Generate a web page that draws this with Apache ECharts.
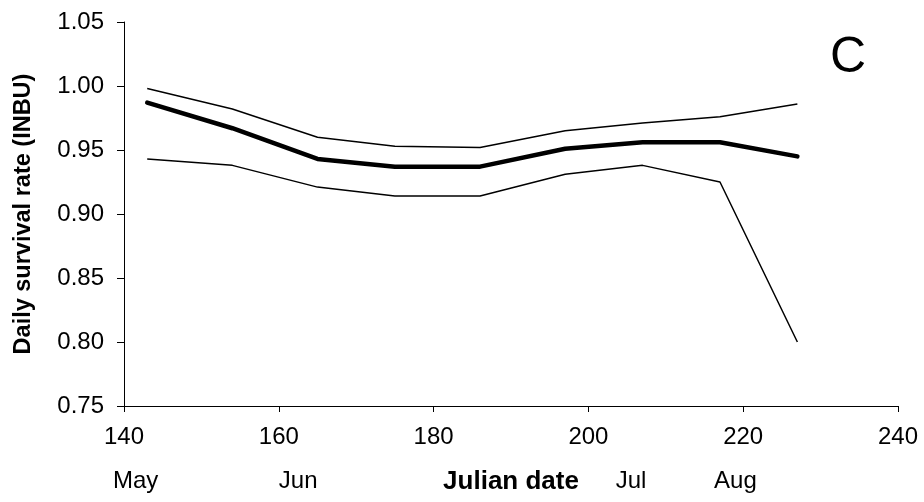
<!DOCTYPE html>
<html>
<head>
<meta charset="utf-8">
<script src="https://cdn.jsdelivr.net/npm/echarts@6/dist/echarts.min.js"></script>
<style>
  html, body { margin: 0; padding: 0; background: #fff; }
  #chart { width: 924px; height: 502px; }
</style>
</head>
<body>
<div id="chart"></div>
<script>
// Julian dates of the estimates
const julianDays = [143, 154, 165, 175, 186, 197, 207, 217, 227];
// Daily survival rate estimate and its confidence limits
const dsrEstimate = [0.987, 0.967, 0.943, 0.937, 0.937, 0.951, 0.956, 0.956, 0.945];
const dsrUpper    = [0.998, 0.982, 0.960, 0.953, 0.952, 0.965, 0.971, 0.976, 0.986];
const dsrLower    = [0.943, 0.938, 0.921, 0.914, 0.914, 0.931, 0.938, 0.925, 0.800];
// Month markers along the date axis
const monthPositions = [141.5, 162.5, 205.5, 219];
const monthNames = ['May', 'Jun', 'Jul', 'Aug'];

const FONT = "'Liberation Sans', Arial, sans-serif";

function pairs(xs, ys) { return xs.map((x, i) => [x, ys[i]]); }

const chart = echarts.init(document.getElementById('chart'), null, { renderer: 'canvas' });

const thin = { color: '#000', width: 1.5 };

chart.setOption({
  animation: false,
  backgroundColor: '#fff',
  title: {
    text: 'C',
    left: 830,
    top: 33,
    padding: 0,
    textStyle: { fontFamily: FONT, fontSize: 50, fontWeight: 'normal', color: '#000' }
  },
  grid: { left: 124, right: 26, top: 22, bottom: 96 },
  xAxis: [
    {
      type: 'value',
      min: 140, max: 240, interval: 20,
      name: 'Julian date',
      nameLocation: 'middle',
      nameGap: 63,
      nameTextStyle: { fontFamily: FONT, fontSize: 26, fontWeight: 'bold', color: '#000' },
      axisLine: { show: true, onZero: false, lineStyle: { color: '#000', width: 1 } },
      axisTick: { show: true, inside: false, length: 6, lineStyle: { color: '#000' } },
      axisLabel: { fontFamily: FONT, fontSize: 24, color: '#000', margin: 19 },
      splitLine: { show: false }
    },
    {
      type: 'value',
      position: 'bottom',
      min: 140, max: 240,
      axisLine: { show: false },
      axisTick: { show: false },
      splitLine: { show: false },
      axisLabel: {
        customValues: monthPositions,
        fontFamily: FONT, fontSize: 24, color: '#000', margin: 63,
        formatter: v => monthNames[monthPositions.indexOf(v)] || ''
      }
    }
  ],
  yAxis: {
    type: 'value',
    min: 0.75, max: 1.05, interval: 0.05,
    name: 'Daily survival rate (INBU)',
    nameLocation: 'middle',
    nameRotate: 90,
    nameGap: 88,
    nameTextStyle: { fontFamily: FONT, fontSize: 23.5, fontWeight: 'bold', color: '#000' },
    axisLine: { show: true, lineStyle: { color: '#000', width: 1 } },
    axisTick: { show: true, length: 7, lineStyle: { color: '#000' } },
    axisLabel: {
      fontFamily: FONT, fontSize: 24, color: '#000', margin: 20,
      formatter: v => v.toFixed(2)
    },
    splitLine: { show: false }
  },
  series: [
    {
      type: 'line', name: 'Upper', data: pairs(julianDays, dsrUpper),
      showSymbol: false, symbol: 'none', lineStyle: thin, z: 2
    },
    {
      type: 'line', name: 'Lower', data: pairs(julianDays, dsrLower),
      showSymbol: false, symbol: 'none', lineStyle: thin, z: 2
    },
    {
      type: 'line', name: 'DSR', data: pairs(julianDays, dsrEstimate),
      showSymbol: false, symbol: 'none',
      lineStyle: { color: '#000', width: 4.5, cap: 'round', join: 'round' }, z: 3
    }
  ]
});
</script>
</body>
</html>
